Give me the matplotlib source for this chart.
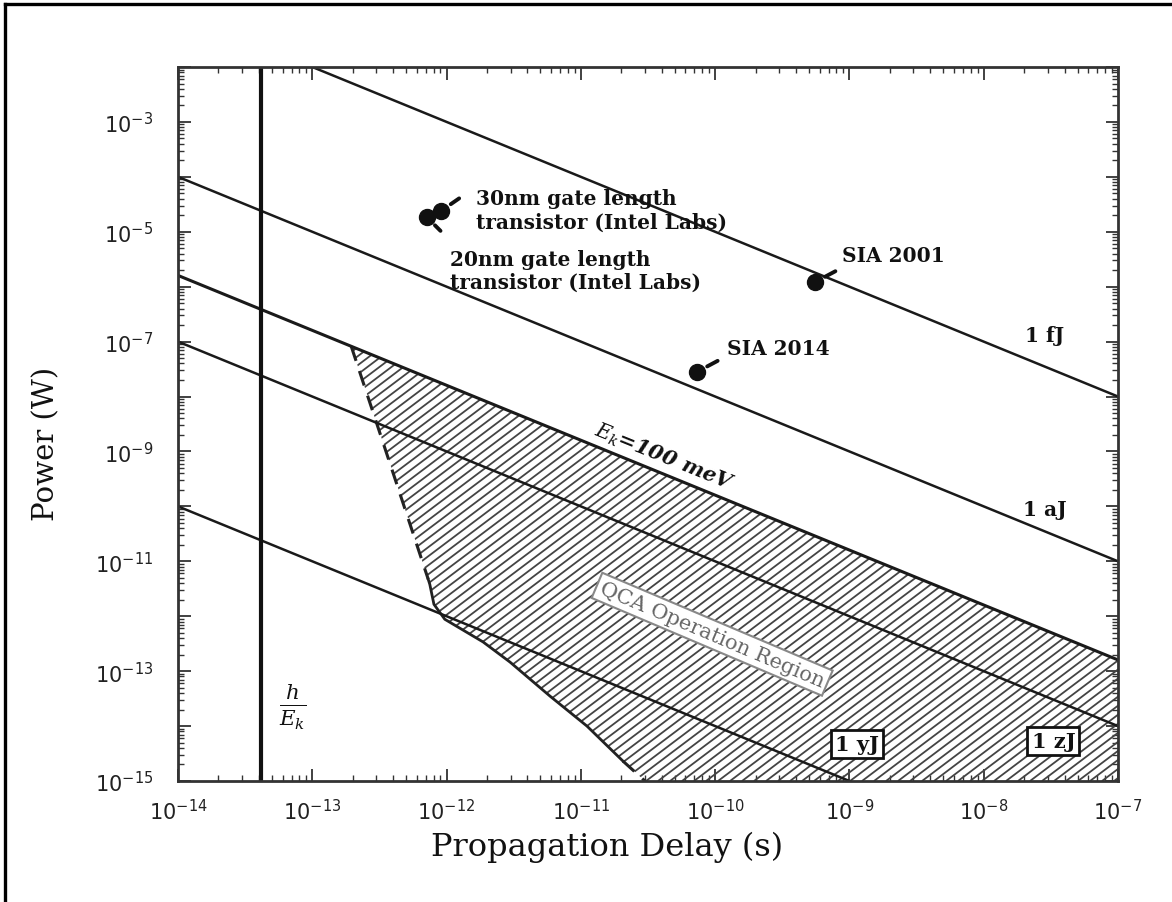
import numpy as np
import matplotlib.pyplot as plt
from matplotlib.patches import Polygon
from matplotlib.collections import LineCollection
from matplotlib.lines import Line2D
from matplotlib.ticker import LogLocator, NullFormatter, FuncFormatter

plt.rcParams['font.family'] = 'DejaVu Serif'
plt.rcParams['mathtext.fontset'] = 'dejavuserif'

# linhas de energia constante (J): P = E / t
energias = [1e-15, 1e-18, 1.602e-20, 1e-21, 1e-24]
larguras = [1.8, 1.8, 2.2, 1.8, 1.8]
t_linha = np.array([1e-14, 1e-7])

# limite h / E_k
h_planck = 6.626e-34
e_k = 1.602e-20
t_h_ek = h_planck / e_k

# pontos (atraso em s, potencia em W)
pontos_t = [9.1e-13, 7.1e-13, 7.3e-11, 5.5e-10]
pontos_p = [2.4e-5, 1.86e-5, 2.8e-8, 1.2e-6]
# deslocamento do tracinho ate o rotulo (pontos)
tracos = [(13, 9), (10, -10), (15, 8), (15, 8)]

# borda esquerda da regiao QCA
borda_t = [1.95e-13, 7.3e-13, 7.5e-13, 8.05e-13, 9.7e-13, 1.87e-12,
           2.97e-12, 5.9e-12, 1.11e-11, 2.06e-11, 3.0e-11]
borda_p = [8.2e-8, 4.7e-12, 3.8e-12, 1.65e-12, 8.8e-13, 3.4e-13,
           1.46e-13, 3.5e-14, 1.0e-14, 2.3e-15, 1e-15]

fig = plt.figure(figsize=(11.72, 9.03), dpi=100)
ax = fig.add_axes([0.1519, 0.134, 0.802, 0.7907])
ax.set_xscale('log')
ax.set_yscale('log')
ax.set_xlim(1e-14, 1e-7)
ax.set_ylim(1e-15, 1e-2)

# regiao hachurada
poly_t = borda_t + [1e-7, 1e-7]
poly_p = borda_p + [1e-15, e_k / 1e-7]
regiao = Polygon(np.column_stack([poly_t, poly_p]), closed=True,
                 facecolor='none', edgecolor='none')
ax.add_patch(regiao)

W = ax.get_position().width * fig.get_figwidth() * fig.dpi
H = ax.get_position().height * fig.get_figheight() * fig.dpi
ang = np.radians(37)
passo = 12.0
segs = []
for x0 in np.arange(-1200, W + 20, passo):
    L = 2000
    segs.append([(x0 / W, 0), ((x0 + L * np.cos(ang)) / W, L * np.sin(ang) / H)])
hach = LineCollection(segs, colors='#444444', linewidths=1.3,
                      transform=ax.transAxes)
ax.add_collection(hach)
hach.set_clip_path(regiao)

# borda: tracejado em cima e embaixo, continuo no meio
ax.plot(borda_t[0:2], borda_p[0:2], color='#222', lw=2.2, ls=(0, (5, 3.5)))
ax.plot(borda_t[1:10], borda_p[1:10], color='#222', lw=2.0)
ax.plot(borda_t[9:11], borda_p[9:11], color='#222', lw=2.2, ls=(0, (5, 3.5)))

for e, lw in zip(energias, larguras):
    ax.plot(t_linha, e / t_linha, color='#1a1a1a', lw=lw)

ax.axvline(t_h_ek, color='#111', lw=3.0)

ax.plot(pontos_t, pontos_p, 'o', color='#111', ms=11.5)
for t, p, d in zip(pontos_t, pontos_p, tracos):
    ax.annotate('', xy=(t, p), xytext=d, textcoords='offset points',
                arrowprops=dict(arrowstyle='-', lw=2.8, color='#111',
                                shrinkA=0, shrinkB=8.5))

# textos
kw = dict(fontsize=14.5, fontweight='bold', color='#111')
ax.text(1.66e-12, 2.5e-5, '30nm gate length\ntransistor (Intel Labs)',
        ha='left', va='center', linespacing=1.2, **kw)
ax.text(1.06e-12, 2.0e-6, '20nm gate length\ntransistor (Intel Labs)',
        ha='left', va='center', linespacing=1.2, **kw)
ax.text(8.8e-10, 3.8e-6, 'SIA 2001', ha='left', va='center', **kw)
ax.text(1.22e-10, 7.8e-8, 'SIA 2014', ha='left', va='center', **kw)
ax.text(2.86e-8, 1.34e-7, '1 fJ', ha='center', va='center', **kw)
ax.text(2.86e-8, 8.8e-11, '1 aJ', ha='center', va='center', **kw)
ax.text(4.2e-11, 8.1e-10, r'$\mathit{E}_\mathit{k}$=100 meV', ha='center', va='center',
        rotation=-22, fontsize=15, fontweight='bold', style='italic', color='#111')
ax.text(9.5e-11, 4.7e-13, 'QCA Operation Region', ha='center', va='center',
        rotation=-23, fontsize=15, color='#666',
        bbox=dict(boxstyle='square,pad=0.2', fc='white', ec='#888', lw=1.5))
ax.text(1.14e-9, 4.7e-15, '1 yJ', ha='center', va='center', fontsize=15,
        fontweight='bold', color='#111',
        bbox=dict(boxstyle='square,pad=0.2', fc='white', ec='#111', lw=2))
ax.text(3.3e-8, 5.3e-15, '1 zJ', ha='center', va='center', fontsize=15,
        fontweight='bold', color='#111',
        bbox=dict(boxstyle='square,pad=0.2', fc='white', ec='#111', lw=2))
ax.text(7.1e-14, 2.3e-14, r'$\frac{\mathit{h}}{\mathit{E}_\mathit{k}}$',
        ha='center', va='center', fontsize=22, color='#111')

# eixos
ax.xaxis.set_major_locator(LogLocator(base=10, numticks=20))
ax.xaxis.set_minor_locator(LogLocator(base=10, subs=np.arange(2, 10), numticks=20))
ax.yaxis.set_major_locator(LogLocator(base=10, numticks=30))
ax.yaxis.set_minor_locator(LogLocator(base=10, subs=np.arange(2, 10), numticks=30))
ax.xaxis.set_minor_formatter(NullFormatter())
ax.yaxis.set_minor_formatter(NullFormatter())


def rotulo_x(v, pos):
    return r'$\mathsf{10^{%d}}$' % round(np.log10(v))


def rotulo_y(v, pos):
    k = round(np.log10(v))
    return r'$\mathsf{10^{%d}}$' % k if k % 2 != 0 else ''


ax.xaxis.set_major_formatter(FuncFormatter(rotulo_x))
ax.yaxis.set_major_formatter(FuncFormatter(rotulo_y))
ax.tick_params(which='both', direction='in', top=True, right=True,
               color='#333', labelsize=15, labelcolor='#222')
ax.tick_params(which='major', length=9, width=1.3)
ax.tick_params(which='minor', length=4.5, width=1.0)
ax.tick_params(axis='x', pad=12)
ax.tick_params(axis='y', pad=18)
for s in ax.spines.values():
    s.set_linewidth(2.0)
    s.set_color('#333')

ax.set_xlabel('Propagation Delay (s)', fontsize=23, color='#111', va='center')
ax.xaxis.set_label_coords(0.456, -0.092)
ax.set_ylabel('Power (W)', fontsize=21, color='#111', va='center')
ax.yaxis.set_label_coords(-0.140, 0.473)

# moldura da imagem (so topo e esquerda)
fig.add_artist(Line2D([0.004, 1.0], [0.995, 0.995], color='black', lw=2.4,
                      transform=fig.transFigure))
fig.add_artist(Line2D([0.004, 0.004], [0.0, 0.995], color='black', lw=2.4,
                      transform=fig.transFigure))

plt.savefig('out.png', dpi=100)
